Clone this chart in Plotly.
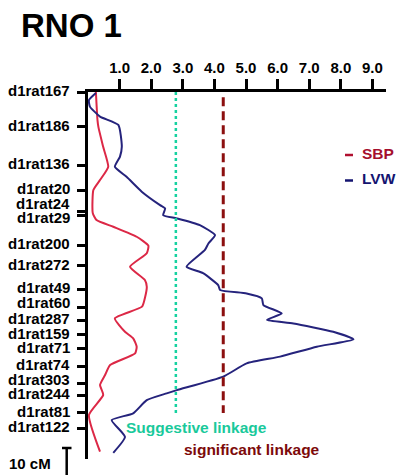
import plotly.graph_objects as go

# ---------------- data ----------------
MARKERS = ["d1rat167", "d1rat186", "d1rat136", "d1rat20", "d1rat24", "d1rat29",
           "d1rat200", "d1rat272", "d1rat49", "d1rat60", "d1rat287", "d1rat159",
           "d1rat71", "d1rat74", "d1rat303", "d1rat244", "d1rat81", "d1rat122"]
MARKER_CM = [0.0, 12.8, 27.1, 36.4, 44.4, 45.9, 56.8, 64.4, 73.1, 79.9, 84.6,
             89.9, 95.0, 101.5, 108.0, 112.2, 118.7, 124.6]
CHROM_END_CM = 135.9

SBP_CM = [0.0, 10.4, 13.0, 20.3, 27.7, 32.6, 36.3, 44.8, 47.4, 49.9, 53.6, 56.9,
          59.7, 64.7, 69.6, 72.1, 75.8, 79.5, 83.8, 88.8, 91.2, 94.3, 96.8, 101.1,
          104.8, 108.5, 112.2, 119.6, 133.2]
SBP_LOD = [0.25, 0.30, 0.33, 0.48, 0.64, 0.38, 0.17, 0.15, 0.27, 0.80, 1.54, 1.91,
           1.86, 1.33, 1.80, 1.86, 1.81, 1.71, 0.85, 1.17, 1.43, 1.54, 1.49, 0.70,
           0.54, 0.38, 0.48, 0.03, 0.38]

LVW_CM = [0.4, 3.0, 5.4, 9.1, 12.2, 20.3, 24.0, 27.7, 31.4, 36.9, 41.9, 43.1, 45.6,
          46.8, 49.3, 53.0, 56.1, 58.5, 64.7, 67.1, 71.5, 73.3, 74.6, 76.4, 78.9,
          82.0, 84.4, 85.7, 88.8, 91.6, 94.3, 98.0, 100.5, 105.4, 110.4, 111.6,
          114.1, 119.0, 121.5, 127.7, 133.6]
LVW_LOD = [0.25, 0.03, 0.06, 0.38, 0.96, 1.07, 1.01, 0.85, 1.22, 1.70, 2.28, 2.44,
           2.38, 2.81, 3.54, 4.02, 3.81, 3.70, 3.12, 3.64, 4.12, 4.18, 5.02, 5.50,
           5.55, 6.13, 5.66, 6.50, 7.76, 8.40, 7.24, 6.08, 5.02, 4.28, 2.81, 2.49,
           1.86, 1.43, 0.75, 1.17, 0.80]

SUGGESTIVE_LOD = 2.78
SIGNIFICANT_LOD = 4.28
THRESH_CM = [0.0, 118.9]
SIGNIF_CM = [1.9, 118.9]

LOD_TICKS = [1, 2, 3, 4, 5, 6, 7, 8, 9]
LOD_TICK_TEXT = ["1.0", "2.0", "3.0", "4.0", "5.0", "6.0", "7.0", "8.0", "9.0"]
SCALE_CM = 10

# ---------------- layout geometry ----------------
W, H = 397, 475
L, R, T, B = 88, 11, 92, 16
PW = W - L - R
PH = H - T - B
X_MAX = 9.43
FONT = "Liberation Sans, Arial, sans-serif"

def px_x(px):
    return (px - L) / PW

def px_y(py):
    return (H - B - py) / PH

RED = "#dc2846"
NAVY = "#25237c"
TEAL = "#16d2a0"
DARKRED = "#8c0f0f"

fig = go.Figure()
fig.add_trace(go.Scatter(x=SBP_LOD, y=SBP_CM, mode="lines",
                         line=dict(color=RED, width=2, shape="spline", smoothing=0.5),
                         name="SBP", showlegend=False))
fig.add_trace(go.Scatter(x=LVW_LOD, y=LVW_CM, mode="lines",
                         line=dict(color=NAVY, width=2, shape="spline", smoothing=0.5),
                         name="LVW", showlegend=False))
fig.add_trace(go.Scatter(x=[SUGGESTIVE_LOD] * 2, y=THRESH_CM, mode="lines",
                         line=dict(color=TEAL, width=2.5, dash="dot"),
                         showlegend=False))
fig.add_trace(go.Scatter(x=[SIGNIFICANT_LOD] * 2, y=SIGNIF_CM, mode="lines",
                         line=dict(color=DARKRED, width=3, dash="9px,5px"),
                         showlegend=False))

annotations = []
# title
annotations.append(dict(text="<b>RNO 1</b>", x=px_x(19), y=px_y(25), xref="paper", yref="paper",
                        xanchor="left", yanchor="middle", showarrow=False,
                        font=dict(family=FONT, size=33, color="black")))
# marker labels
label_nudge = {"d1rat24": -6.5, "d1rat29": 3.5, "d1rat60": -3.5, "d1rat303": -2.5}
for name, cm in zip(MARKERS, MARKER_CM):
    py = T + cm * PH / CHROM_END_CM - 1.5 + label_nudge.get(name, 0)
    annotations.append(dict(text="<b>" + name + "</b>", x=px_x(72), y=px_y(py),
                            xref="paper", yref="paper", xanchor="right", yanchor="middle",
                            showarrow=False, font=dict(family=FONT, size=15, color="black")))
# legend
annotations.append(dict(text="<b>SBP</b>", x=px_x(360), y=px_y(153), xref="paper", yref="paper",
                        xanchor="left", yanchor="middle", showarrow=False,
                        font=dict(family=FONT, size=15.5, color="#a50f2d")))
annotations.append(dict(text="<b>LVW</b>", x=px_x(360), y=px_y(178), xref="paper", yref="paper",
                        xanchor="left", yanchor="middle", showarrow=False,
                        font=dict(family=FONT, size=15.5, color="#141470")))
# threshold labels
annotations.append(dict(text="<b>Suggestive linkage</b>", x=px_x(124), y=px_y(427),
                        xref="paper", yref="paper", xanchor="left", yanchor="middle",
                        showarrow=False, font=dict(family=FONT, size=15.5, color="#19c99b")))
annotations.append(dict(text="<b>significant linkage</b>", x=px_x(182), y=px_y(449),
                        xref="paper", yref="paper", xanchor="left", yanchor="middle",
                        showarrow=False, font=dict(family=FONT, size=15.5, color="#7d0a0a")))
# scale label
annotations.append(dict(text="<b>%d cM</b>" % SCALE_CM, x=px_x(53), y=px_y(463),
                        xref="paper", yref="paper", xanchor="right", yanchor="middle",
                        showarrow=False, font=dict(family=FONT, size=15, color="black")))

scale_top_py = 448
scale_bot_py = scale_top_py + SCALE_CM * PH / CHROM_END_CM
shapes = [
    dict(type="line", xref="paper", yref="paper", x0=px_x(66.7), x1=px_x(66.7),
         y0=px_y(scale_top_py), y1=px_y(scale_bot_py), line=dict(color="black", width=2.5)),
    dict(type="line", xref="paper", yref="paper", x0=px_x(62), x1=px_x(71.5),
         y0=px_y(scale_top_py), y1=px_y(scale_top_py), line=dict(color="black", width=2.5)),
    dict(type="line", xref="paper", yref="paper", x0=px_x(345), x1=px_x(353),
         y0=px_y(155), y1=px_y(155), line=dict(color="#b01030", width=2.5)),
    dict(type="line", xref="paper", yref="paper", x0=px_x(345), x1=px_x(353),
         y0=px_y(180.5), y1=px_y(180.5), line=dict(color="#141470", width=2.5)),
]

fig.update_layout(
    width=W, height=H, margin=dict(l=L, r=R, t=T, b=B, pad=0),
    paper_bgcolor="white", plot_bgcolor="white", showlegend=False,
    annotations=annotations, shapes=shapes,
    xaxis=dict(side="top", range=[0, X_MAX], showgrid=False, zeroline=False,
               showline=True, linecolor="black", linewidth=3,
               ticks="outside", ticklen=10, tickwidth=2.5, tickcolor="black",
               tickvals=LOD_TICKS, ticktext=["<b>%s</b>" % t for t in LOD_TICK_TEXT],
               tickfont=dict(family=FONT, size=15, color="black"), fixedrange=True),
    yaxis=dict(range=[CHROM_END_CM, 0], showgrid=False, zeroline=False,
               showline=True, linecolor="black", linewidth=2.7,
               ticks="outside", ticklen=8, tickwidth=2.5, tickcolor="black",
               tickvals=MARKER_CM, showticklabels=False, fixedrange=True),
)

fig.write_html("out.html", config={"displayModeBar": False},
               post_script="document.body.style.margin='0';document.body.style.padding='0';")
